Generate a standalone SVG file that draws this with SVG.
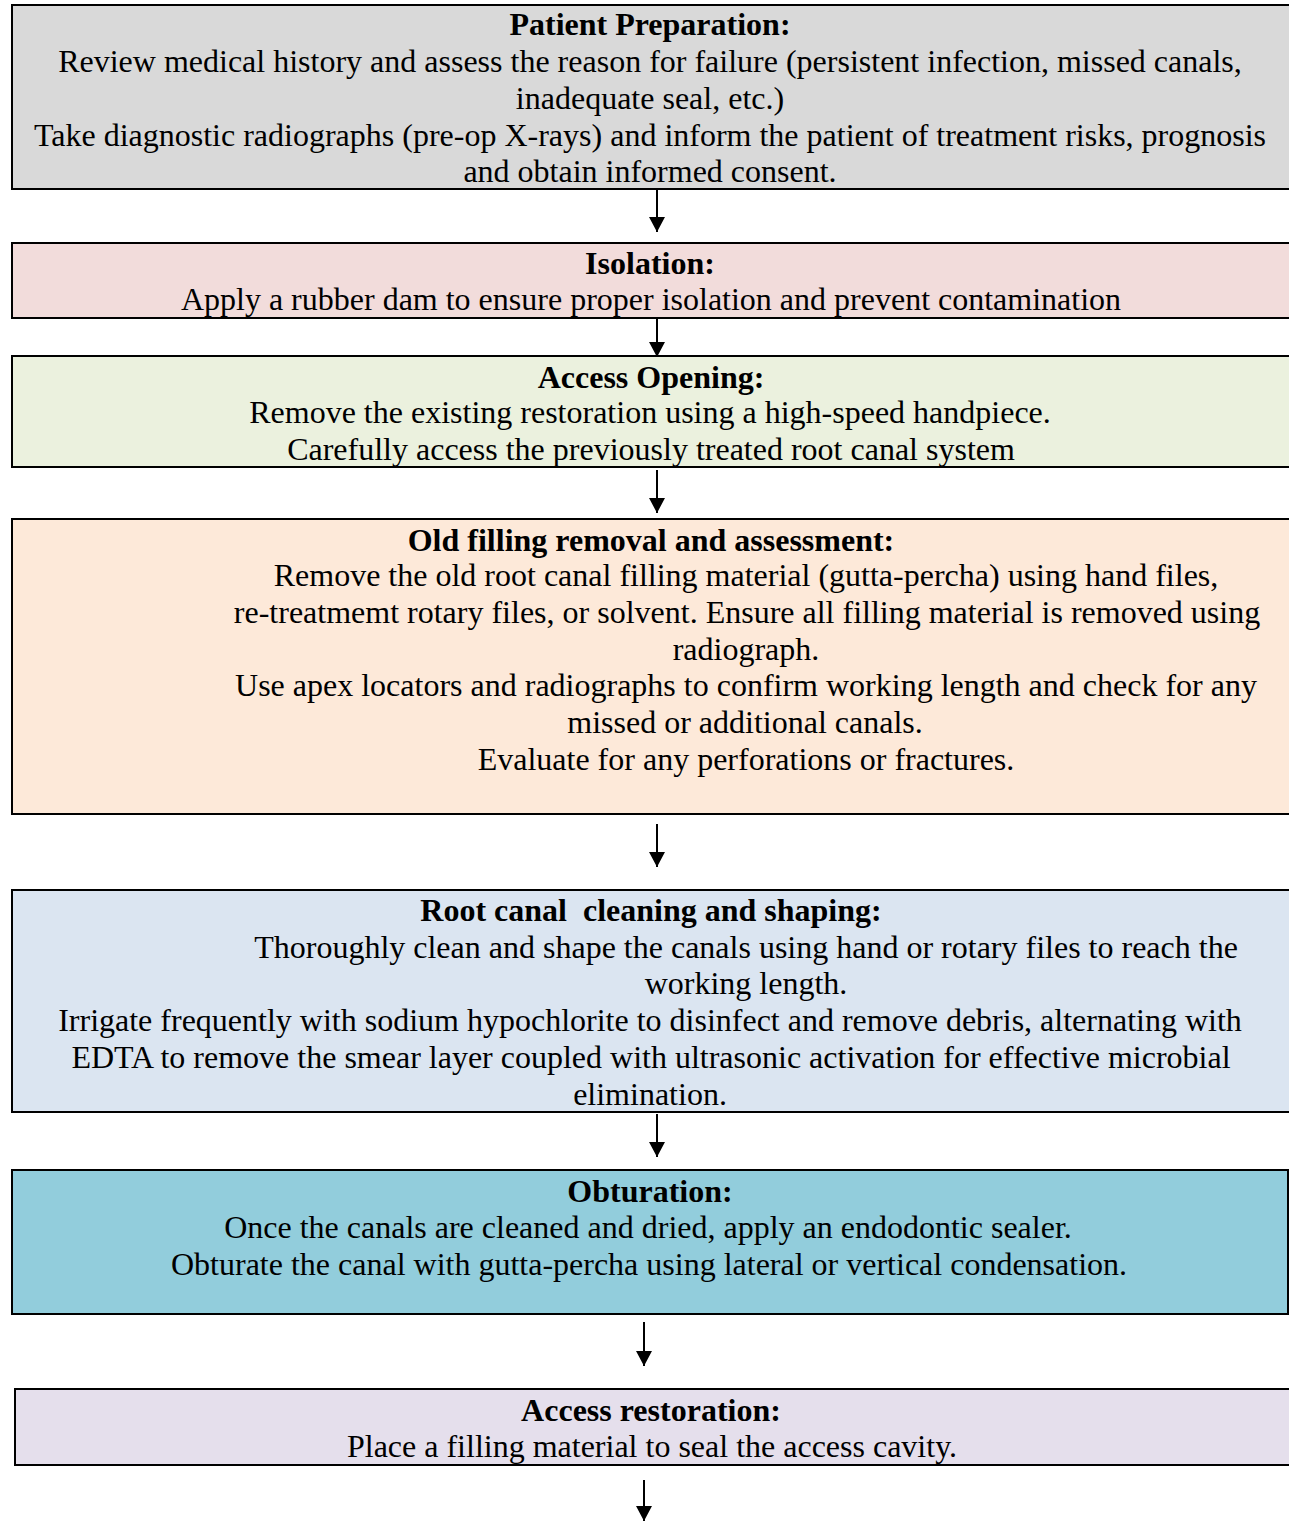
<svg xmlns="http://www.w3.org/2000/svg" width="1289" height="1521" viewBox="0 0 1289 1521">
<style>
.box{stroke:#000;stroke-width:2}
text{font-family:"Liberation Serif","Times New Roman",serif;font-size:32px;fill:#000;text-anchor:middle}
.b{font-weight:bold}
.c line{stroke:#000;stroke-width:2}
</style>
<defs>
<marker id="ah" markerWidth="15" markerHeight="16" refX="15" refY="8" orient="auto" markerUnits="userSpaceOnUse" viewBox="0 0 15 16">
<path d="M0,0 L15,8 L0,16 z" fill="#000"/>
</marker>
</defs>
<rect width="1289" height="1521" fill="#fff"/>
<g id="n1">
<rect class="box" x="12" y="5" width="1290" height="184" fill="#d9d9d9"/>
<text class="b" x="650" y="35">Patient Preparation:</text>
<text x="650" y="72">Review medical history and assess the reason for failure (persistent infection, missed canals,</text>
<text x="650" y="109">inadequate seal, etc.)</text>
<text x="650" y="146">Take diagnostic radiographs (pre-op X-rays) and inform the patient of treatment risks, prognosis</text>
<text x="650" y="182">and obtain informed consent.</text>
</g>
<g id="n2">
<rect class="box" x="12" y="243" width="1290" height="75" fill="#f2dcdb"/>
<text class="b" x="650" y="274">Isolation:</text>
<text x="651" y="310">Apply a rubber dam to ensure proper isolation and prevent contamination</text>
</g>
<g id="n3">
<rect class="box" x="12" y="356" width="1290" height="111" fill="#ebf1de"/>
<text class="b" x="651" y="388">Access Opening:</text>
<text x="650" y="423">Remove the existing restoration using a high-speed handpiece.</text>
<text x="651" y="460">Carefully access the previously treated root canal system</text>
</g>
<g id="n4">
<rect class="box" x="12" y="519" width="1290" height="295" fill="#fde9d9"/>
<text class="b" x="651" y="551">Old filling removal and assessment:</text>
<text x="746" y="586">Remove the old root canal filling material (gutta-percha) using hand files,</text>
<text x="747" y="623">re-treatmemt rotary files, or solvent. Ensure all filling material is removed using</text>
<text x="746" y="660">radiograph.</text>
<text x="746" y="696">Use apex locators and radiographs to confirm working length and check for any</text>
<text x="745" y="733">missed or additional canals.</text>
<text x="746" y="770">Evaluate for any perforations or fractures.</text>
</g>
<g id="n5">
<rect class="box" x="12" y="890" width="1290" height="222" fill="#dbe5f1"/>
<text class="b" x="651" y="921" xml:space="preserve">Root canal  cleaning and shaping:</text>
<text x="746" y="958">Thoroughly clean and shape the canals using hand or rotary files to reach the</text>
<text x="746" y="994">working length.</text>
<text x="650" y="1031">Irrigate frequently with sodium hypochlorite to disinfect and remove debris, alternating with</text>
<text x="651" y="1068">EDTA to remove the smear layer coupled with ultrasonic activation for effective microbial</text>
<text x="650" y="1105">elimination.</text>
</g>
<g id="n6">
<rect class="box" x="12" y="1170" width="1276" height="144" fill="#92cddc"/>
<text class="b" x="650" y="1202">Obturation:</text>
<text x="648" y="1238">Once the canals are cleaned and dried, apply an endodontic sealer.</text>
<text x="649" y="1275">Obturate the canal with gutta-percha using lateral or vertical condensation.</text>
</g>
<g id="n7">
<rect class="box" x="15" y="1389" width="1290" height="76" fill="#e5dfec"/>
<text class="b" x="651" y="1421">Access restoration:</text>
<text x="652" y="1457">Place a filling material to seal the access cavity.</text>
</g>
<g class="c" id="connectors">
<line x1="657" y1="190" x2="657" y2="232" marker-end="url(#ah)"/>
<line x1="657" y1="318" x2="657" y2="357" marker-end="url(#ah)"/>
<line x1="657" y1="470" x2="657" y2="513" marker-end="url(#ah)"/>
<line x1="657" y1="824" x2="657" y2="867" marker-end="url(#ah)"/>
<line x1="657" y1="1114" x2="657" y2="1157" marker-end="url(#ah)"/>
<line x1="644" y1="1322" x2="644" y2="1366" marker-end="url(#ah)"/>
<line x1="644" y1="1480" x2="644" y2="1521" marker-end="url(#ah)"/>
</g>
</svg>
